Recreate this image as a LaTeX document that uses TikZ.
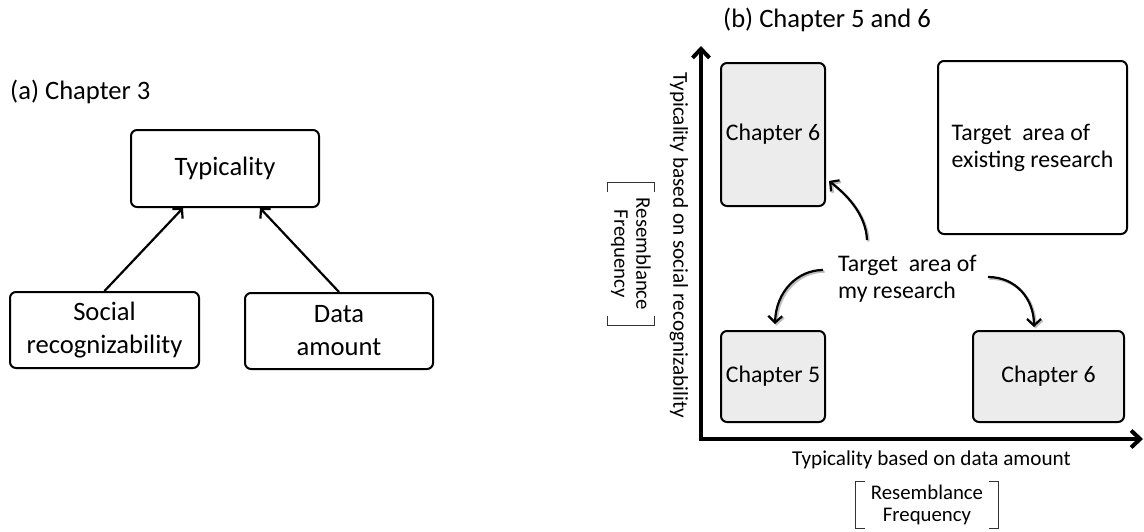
\documentclass[tikz,border=0pt]{standalone}
\usepackage{fontspec}
\setmainfont{Carlito}
\usetikzlibrary{arrows.meta,calc}
\begin{document}
\begin{tikzpicture}[x=1pt,y=-1pt,
  box/.style={draw=black, line width=2pt, rounded corners=6pt, inner sep=0pt, align=center, fill=white},
  gbox/.style={box, fill=gray!15},
  fa/.style={font=\fontsize{26.6}{33}\selectfont},
  fb/.style={font=\fontsize{23.8}{27}\selectfont},
  fc/.style={font=\fontsize{21.2}{24}\selectfont},
  fd/.style={font=\fontsize{20.8}{22}\selectfont},
  link/.style={line width=2.2pt, -{Straight Barb[length=6.5pt,width=14pt]}},
  curvy/.style={line width=2.2pt, -{Straight Barb[length=6.5pt,width=14pt]},
    preaction={draw=black!25, line width=2.5pt, transform canvas={xshift=1.5pt,yshift=-1.5pt}}},
  axis/.style={line width=4pt, line join=miter, {Straight Barb[length=9pt,width=17pt]}-{Straight Barb[length=9pt,width=17pt]}},
  brk/.style={line width=0.9pt, black!80},
  lbl/.style={inner sep=0pt}
]
\useasboundingbox (0,0) rectangle (1144,531);

% ---------- panel (a)
\node[lbl,fa,anchor=base west] (ta) at (10,99) {(a) Chapter 3};
\node[box,fa,minimum width=188pt,minimum height=77pt] (typ) at (225,168.5) {Typicality};
\node[box,fa,minimum width=189pt,minimum height=76pt] (soc) at (104.5,330) {Social\\recognizability};
\node[box,fa,minimum width=188pt,minimum height=76pt] (dat) at (339,331) {Data\\amount};
\draw[link] (soc.north) -- ($(typ.south)+(-42,0)$);
\draw[link] (dat.north) -- ($(typ.south)+(35,0)$);

% ---------- panel (b)
\node[lbl,fa,anchor=base west] (tb) at (723,27) {(b) Chapter 5 and 6};
\coordinate (O) at (701,439);
\coordinate (Yt) at (701,46);
\coordinate (Xt) at (1143,439);
\draw[axis] (Yt) -- (O) -- (Xt);

\node[gbox,fb,minimum width=104pt,minimum height=143pt] (c6a) at (773,134.5) {Chapter 6};
\node[gbox,fb,minimum width=104pt,minimum height=91pt] (c5) at (773,376.5) {Chapter 5};
\node[box,fb,minimum width=189pt,minimum height=173pt,align=left] (ex) at (1032.5,147.5) {Target\ \ area of\\existing research};
\node[gbox,fb,minimum width=151pt,minimum height=91pt] (c6b) at (1048.5,376.5) {Chapter 6};

\node[lbl,fb,align=left,anchor=west] (tm) at (838,279) {Target\ \ area of\\my research};

\coordinate (s1) at ($(tm.west)+(29,-39)$);
\coordinate (e1) at ($(c6a.south east)+(3,-26)$);
\coordinate (s2) at ($(tm.west)+(-15,-9)$);
\coordinate (e2) at ($(c5.north)+(2,-6)$);
\coordinate (s3) at ($(tm.west)+(150,-2)$);
\coordinate (e3) at ($(c6b.north)+(-14.5,-3)$);

\draw[curvy] (s1) .. controls ($(s1)+(-1,-26)$) and ($(e1)+(17,13)$) .. (e1);
\draw[curvy] (s2) .. controls ($(s2)+(-25,0)$) and ($(e2)+(1,-33)$) .. (e2);
\draw[curvy] (s3) .. controls ($(s3)+(28,0)$) and ($(e3)+(0,-28)$) .. (e3);

\node[lbl,fc,rotate=-90] (yl) at (679,245) {Typicality based on social recognizability};
\node[lbl,fc] (xl) at (931.5,460) {Typicality based on data amount};

\node[lbl,fd,align=center,minimum width=142pt,minimum height=46pt] (rb) at (927,505) {Resemblance\\Frequency};
\draw[brk] ($(rb.north west)!9pt!(rb.north east)$) -- (rb.north west) -- (rb.south west) -- ($(rb.south west)!9pt!(rb.south east)$);
\draw[brk] ($(rb.north east)!9pt!(rb.north west)$) -- (rb.north east) -- (rb.south east) -- ($(rb.south east)!9pt!(rb.south west)$);

\node[lbl,fd,align=center,minimum width=142pt,minimum height=46pt,rotate=-90] (rl) at (631,254) {Resemblance\\Frequency};
\draw[brk] ($(rl.north west)!9pt!(rl.north east)$) -- (rl.north west) -- (rl.south west) -- ($(rl.south west)!9pt!(rl.south east)$);
\draw[brk] ($(rl.north east)!9pt!(rl.north west)$) -- (rl.north east) -- (rl.south east) -- ($(rl.south east)!9pt!(rl.south west)$);
\end{tikzpicture}
\end{document}
